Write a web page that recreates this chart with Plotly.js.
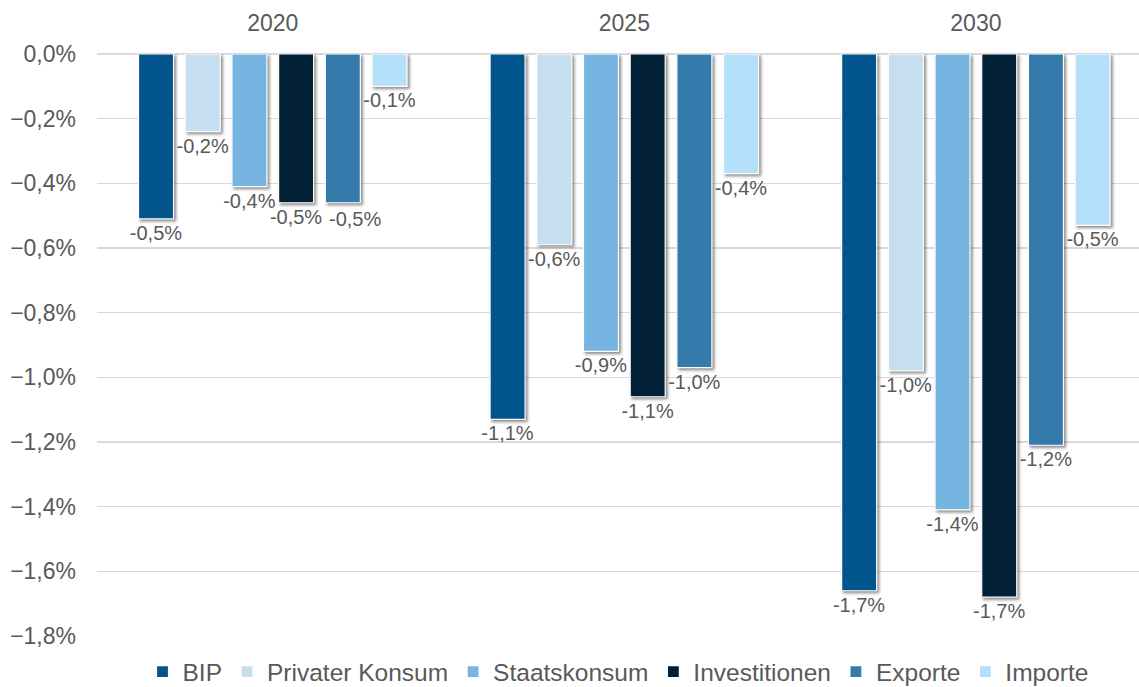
<!DOCTYPE html>
<html>
<head>
<meta charset="utf-8">
<script src="https://cdn.plot.ly/plotly-3.0.1.min.js"></script>
<style>
  body { margin: 0; background: #fff; }
  #chart { width: 1139px; height: 687px; }
  #chart .bars .point path { filter: drop-shadow(2px 2px 1.5px rgba(0,0,0,0.45)); }
</style>
</head>
<body>
<div id="chart"></div>
<script>
const years = ['2020', '2025', '2030'];

// Veränderung in % gegenüber Basis
const bip        = [-0.51, -1.13, -1.66];
const privKonsum = [-0.24, -0.59, -0.98];
const staat      = [-0.41, -0.92, -1.41];
const invest     = [-0.46, -1.06, -1.68];
const exporte    = [-0.46, -0.97, -1.21];
const importe    = [-0.10, -0.37, -0.53];

const names  = ['BIP', 'Privater Konsum', 'Staatskonsum', 'Investitionen', 'Exporte', 'Importe'];
const series = [bip, privKonsum, staat, invest, exporte, importe];
const colors = ['#02548c', '#c6dff0', '#76b5e2', '#011f35', '#347aab', '#b4e0fa'];

const grey = '#595959';
const lbl = '%{y:.1f}%';
const fmt = v => v.toFixed(1).replace('.', ',') + '%';

let traces = [];
for (let i = 0; i < series.length; i++) {
    // 2020 Exporte: Beschriftung als Annotation, leicht nach rechts versetzt
    let tt = lbl;
    if (names[i] === 'Exporte') tt = ['', lbl, lbl];
    traces.push({
        type: 'bar',
        name: names[i],
        x: years,
        y: series[i],
        marker: { color: colors[i], line: { color: '#ffffff', width: 1.2 } },
        texttemplate: tt,
        textposition: 'outside',
        constraintext: 'none',
        textfont: { color: grey, size: 20, family: 'Liberation Sans, Arial, sans-serif' },
        cliponaxis: false,
        hoverinfo: 'skip'
    });
}

var layout = {
    width: 1139,
    height: 687,
    paper_bgcolor: '#ffffff',
    plot_bgcolor: '#ffffff',
    separators: ',.',
    font: { family: 'Liberation Sans, Arial, sans-serif', size: 23, color: grey },
    barmode: 'group',
    bargap: 0.203,
    bargroupgap: 0.25,
    showlegend: true,
    margin: { l: 97, r: 0, t: 54, b: 51, pad: 0, autoexpand: false },
    xaxis: {
        side: 'top',
        type: 'category',
        range: [-0.5, 2.464],
        showgrid: false,
        showline: false,
        ticks: '',
        ticklabelstandoff: 17,
        tickfont: { size: 23, color: grey }
    },
    yaxis: {
        range: [-1.8, 0],
        dtick: 0.2,
        tickformat: '.1f',
        ticksuffix: '%',
        showgrid: true,
        gridcolor: '#d9d9d9',
        gridwidth: 1.3,
        zeroline: true,
        zerolinecolor: '#d9d9d9',
        zerolinewidth: 1.3,
        showline: false,
        ticks: '',
        ticklabelstandoff: 20,
        tickfont: { size: 23, color: grey }
    },
    annotations: [{
        x: years.indexOf('2020'),
        y: exporte[0],
        xref: 'x',
        yref: 'y',
        text: fmt(exporte[0]),
        showarrow: false,
        xanchor: 'center',
        yanchor: 'top',
        xshift: 82,
        yshift: -3,
        font: { color: grey, size: 20, family: 'Liberation Sans, Arial, sans-serif' }
    }],
    legend: {
        orientation: 'h',
        xref: 'paper',
        x: 0.5,
        xanchor: 'center',
        yref: 'container',
        y: 0.055,
        yanchor: 'top',
        font: { size: 24.5, color: grey },
        itemwidth: 30,
        traceorder: 'normal'
    }
};

Plotly.newPlot('chart', traces, layout, { displayModeBar: false, staticPlot: true });
</script>
</body>
</html>
